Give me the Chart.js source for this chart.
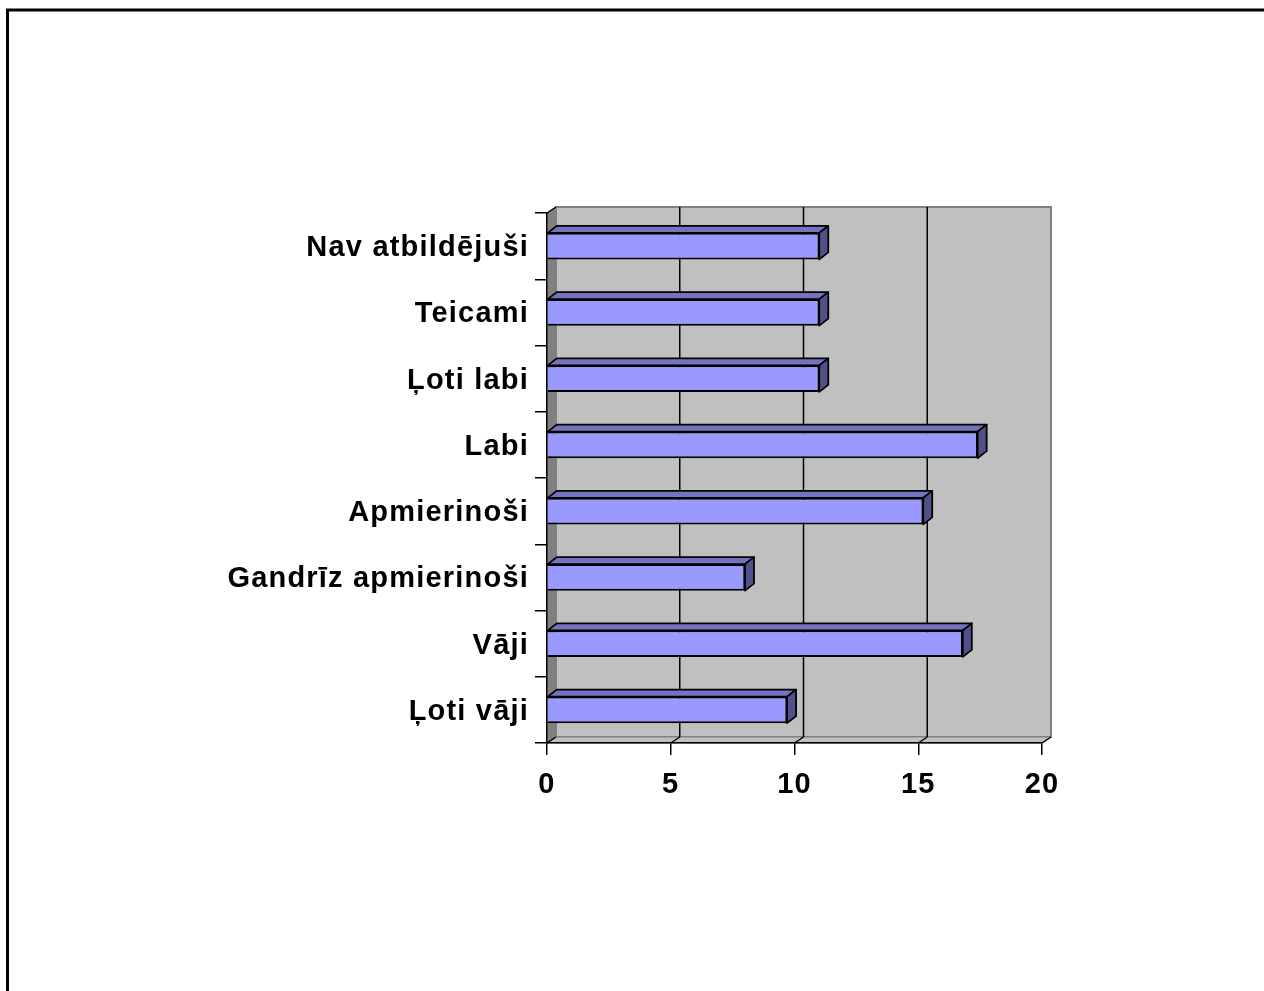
<!DOCTYPE html>
<html>
<head>
<meta charset="utf-8">
<script src="https://cdn.jsdelivr.net/npm/chart.js@4.4.0/dist/chart.umd.min.js"></script>
<style>
  html, body { margin: 0; padding: 0; background: #fff; }
  canvas { display: block; }
</style>
</head>
<body>
<canvas id="chart" width="1264" height="991"></canvas>
<script>
// categories listed top to bottom, as in the picture
const categories = ['Nav atbildējuši', 'Teicami', 'Ļoti labi', 'Labi', 'Apmierinoši', 'Gandrīz apmierinoši', 'Vāji', 'Ļoti vāji'];
const values = [11, 11, 11, 17.4, 15.2, 8, 16.8, 9.7];
const xTicks = [0, 5, 10, 15, 20];

// depth of the fake 3d walls and bars
const WALL_DX = 9, WALL_DY = -6;
const BAR_DX = 9, BAR_DY = -7;

const labelFont = { family: "'Liberation Sans', Arial, sans-serif", size: 29, weight: 'bold' };

function poly(ctx, pts, fill, stroke, lw) {
  ctx.beginPath();
  ctx.moveTo(pts[0][0], pts[0][1]);
  for (let i = 1; i < pts.length; i++) ctx.lineTo(pts[i][0], pts[i][1]);
  ctx.closePath();
  if (fill) { ctx.fillStyle = fill; ctx.fill(); }
  if (stroke) { ctx.strokeStyle = stroke; ctx.lineWidth = lw; ctx.stroke(); }
}

// walls, floor and gridlines behind the bars
const walls3d = {
  id: 'walls3d',
  beforeDraw(chart) {
    const ctx = chart.ctx;
    const { left, right, top, bottom } = chart.chartArea;
    const xs = chart.scales.x;
    ctx.save();
    ctx.fillStyle = '#fff';
    ctx.fillRect(0, 0, chart.width, chart.height);

    // outer frame (runs off the right and bottom edges)
    ctx.strokeStyle = '#000';
    ctx.lineWidth = 3;
    ctx.strokeRect(7.5, 10, chart.width + 20, chart.height + 20);

    // back wall
    poly(ctx, [[left + WALL_DX, top + WALL_DY], [right + WALL_DX, top + WALL_DY],
               [right + WALL_DX, bottom + WALL_DY], [left + WALL_DX, bottom + WALL_DY]],
         '#c0c0c0', '#808080', 2);
    // left side wall
    poly(ctx, [[left, top], [left + WALL_DX, top + WALL_DY],
               [left + WALL_DX, bottom + WALL_DY], [left, bottom]],
         '#808080', '#808080', 1);
    // floor
    poly(ctx, [[left, bottom], [right, bottom],
               [right + WALL_DX, bottom + WALL_DY], [left + WALL_DX, bottom + WALL_DY]],
         '#c0c0c0', '#808080', 1);

    // gridlines on the back wall and the floor
    ctx.strokeStyle = '#000';
    ctx.lineWidth = 1.5;
    xTicks.forEach(v => {
      const px = xs.getPixelForValue(v);
      ctx.beginPath();
      if (v > xs.min && v < xs.max) {
        ctx.moveTo(px + WALL_DX, top + WALL_DY);
        ctx.lineTo(px + WALL_DX, bottom + WALL_DY);
      }
      ctx.moveTo(px, bottom);
      ctx.lineTo(px + WALL_DX, bottom + WALL_DY);
      ctx.stroke();
    });
    // top edge of the side wall
    ctx.beginPath();
    ctx.moveTo(left, top);
    ctx.lineTo(left + WALL_DX, top + WALL_DY);
    ctx.stroke();
    ctx.restore();

    // tick labels in the original are a bit wider spaced
    ctx.letterSpacing = '1.2px';
  },
  afterDraw(chart) {
    chart.ctx.letterSpacing = '0px';
  },
  // top and side faces of each bar
  afterDatasetsDraw(chart) {
    const ctx = chart.ctx;
    ctx.save();
    ctx.lineJoin = 'round';
    chart.getDatasetMeta(0).data.forEach(bar => {
      const { x, y, base, height } = bar.getProps(['x', 'y', 'base', 'height'], true);
      const t = y - height / 2, b = y + height / 2;
      poly(ctx, [[base, t], [x, t], [x + BAR_DX, t + BAR_DY], [base + BAR_DX, t + BAR_DY]],
           '#7373c0', '#000', 1.8);
      poly(ctx, [[x, t], [x + BAR_DX, t + BAR_DY], [x + BAR_DX, b + BAR_DY], [x, b]],
           '#50508a', '#000', 1.8);
    });
    ctx.restore();
  }
};

new Chart(document.getElementById('chart'), {
  type: 'bar',
  data: {
    labels: categories,
    datasets: [{
      data: values,
      backgroundColor: '#9999ff',
      borderColor: '#000',
      borderWidth: 1.8,
      barPercentage: 0.4,
      categoryPercentage: 1
    }]
  },
  options: {
    indexAxis: 'y',
    responsive: false,
    animation: false,
    devicePixelRatio: 1,
    layout: { padding: { left: 0, top: 213, right: 222, bottom: 0 } },
    plugins: {
      legend: { display: false },
      tooltip: { enabled: false }
    },
    scales: {
      x: {
        min: 0,
        max: 20,
        afterBuildTicks: scale => { scale.ticks = xTicks.map(v => ({ value: v })); },
        afterFit: scale => { scale.height = 248; },
        grid: { drawOnChartArea: false, tickLength: 12, color: '#000', lineWidth: 1.5 },
        border: { color: '#000', width: 1.5 },
        ticks: { font: labelFont, color: '#000', padding: 13, maxRotation: 0 }
      },
      y: {
        afterFit: scale => { scale.width = 547; },
        grid: { drawOnChartArea: false, tickLength: 12, color: '#000', lineWidth: 1.5, offset: true },
        border: { color: '#000', width: 1.5 },
        ticks: { font: labelFont, color: '#000', padding: 6, labelOffset: 2 }
      }
    }
  },
  plugins: [walls3d]
});
</script>
</body>
</html>
